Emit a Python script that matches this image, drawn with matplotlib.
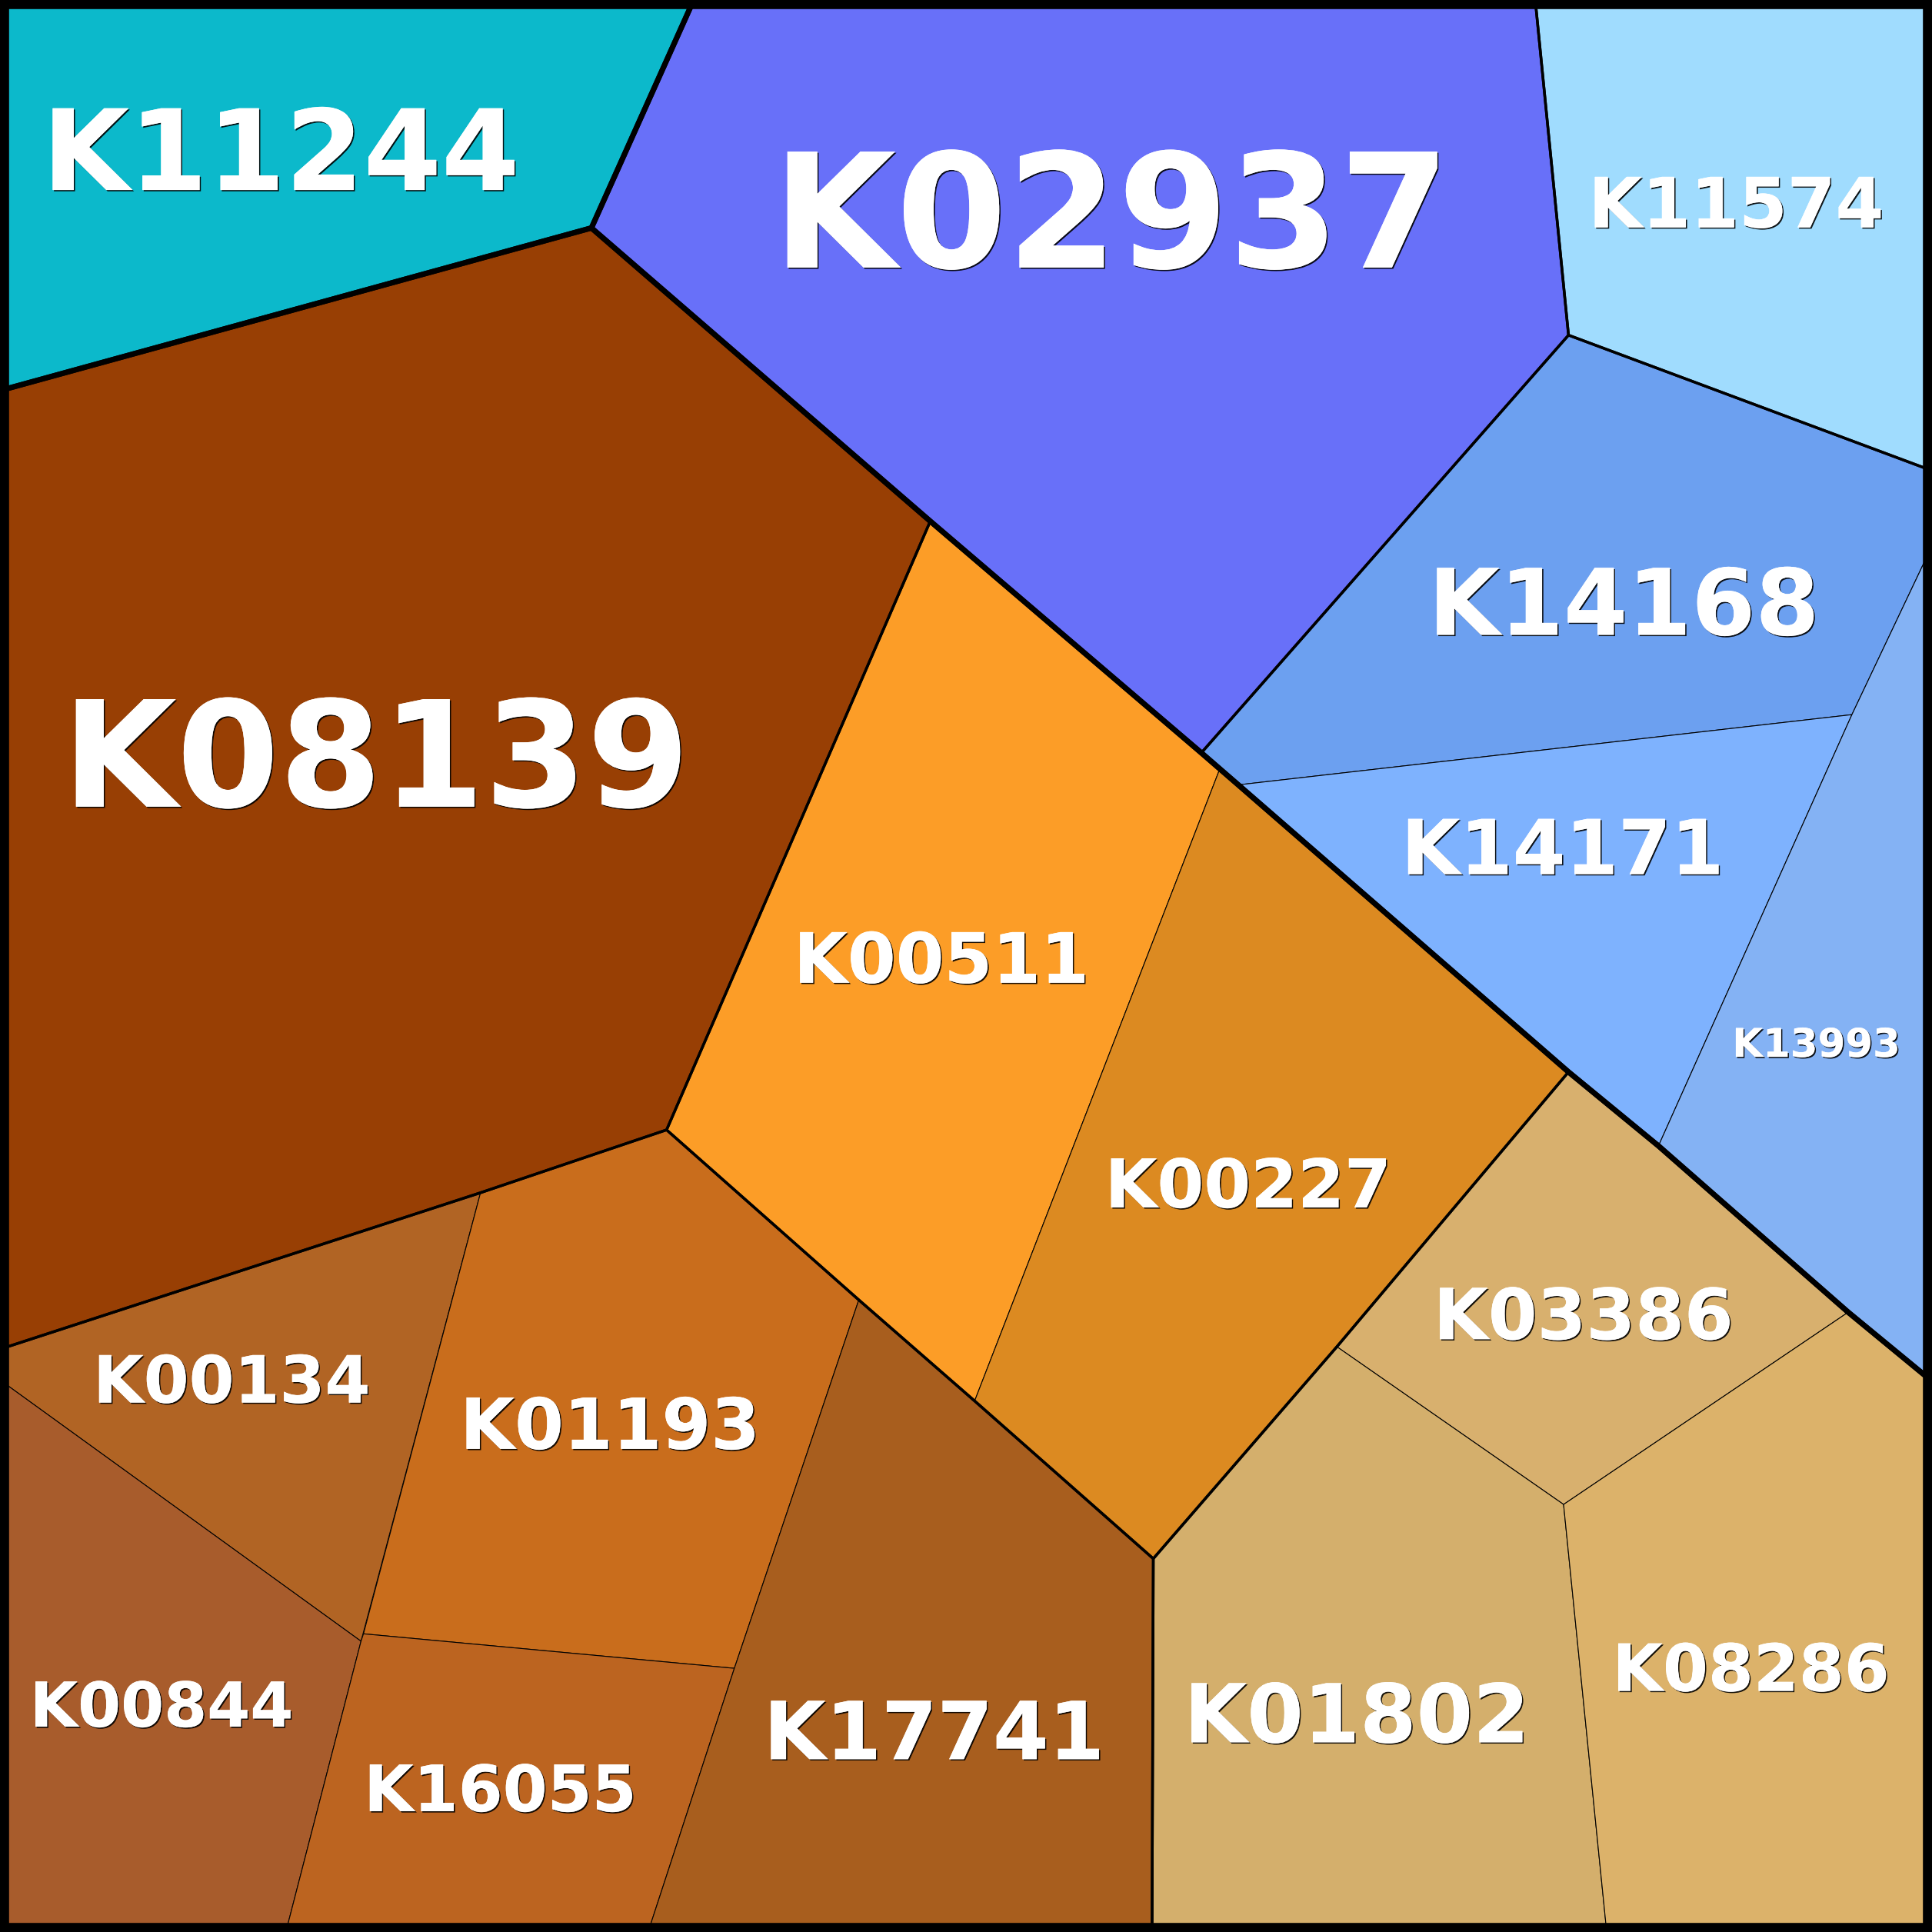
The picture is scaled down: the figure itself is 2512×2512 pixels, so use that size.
"""
Voronoi treemap of KEGG orthologs (K numbers), three nesting levels.
"""
import matplotlib.pyplot as plt
import matplotlib.patheffects as pe
from matplotlib.patches import Polygon, Rectangle

# named vertices, in picture coordinates (0..1568, y down)
pts = {
    'tl': (0, 0), 'tr': (1568, 0), 'br': (1568, 1568), 'bl': (0, 1568),
    'a_top': (563, 0), 'a_left': (0, 317), 'abd': (480, 185),
    'b_top': (1246, 0), 'b_c': (1273, 272), 'r382': (1568, 382),
    'r443': (1568, 443), 'r1121': (1568, 1121),
    'd1': (755, 423), 'd2': (975, 611), 'd3': (990, 624), 'd4': (1005, 637),
    'd5': (1273, 870), 'd6': (1346, 930), 'd7': (1500, 1065),
    'k171': (1503, 580),
    'm1': (541, 917), 'l1095': (0, 1095), 'm2': (390, 968),
    'm3': (697, 1055), 'm4': (791, 1137), 'm5': (936, 1265),
    'b935': (935, 1568), 'm6': (1085, 1093),
    'l1120': (0, 1120), 'm7': (293, 1332), 'm8': (295, 1326),
    'b232': (232, 1568), 'm9': (596, 1354), 'b526': (526, 1568),
    'm10': (1269, 1221), 'b1304': (1304, 1568),
}

# leaf cells
labels = ['K11244', 'K02937', 'K11574', 'K14168', 'K14171', 'K13993',
          'K08139', 'K00511', 'K00227', 'K00134', 'K00844', 'K01193',
          'K16055', 'K17741', 'K03386', 'K01802', 'K08286']
colors = ['#0cb9cb', '#6870f9', '#a0dcfe', '#6ca0f0', '#7eb2fe', '#84b2f4',
          '#983f04', '#fc9d27', '#dc8a21', '#b16424', '#a85c2c', '#c96d1c',
          '#bc6420', '#a85e1e', '#d8b06e', '#d4af6c', '#dcb26a']
cells = [
    ['tl', 'a_top', 'abd', 'a_left'],
    ['a_top', 'b_top', 'b_c', 'd2', 'd1', 'abd'],
    ['b_top', 'tr', 'r382', 'b_c'],
    ['b_c', 'r382', 'r443', 'k171', 'd4', 'd2'],
    ['d4', 'k171', 'd6', 'd5'],
    ['r443', 'r1121', 'd7', 'd6', 'k171'],
    ['a_left', 'abd', 'd1', 'm1', 'm2', 'l1095'],
    ['d1', 'd2', 'd3', 'm4', 'm3', 'm1'],
    ['d3', 'd4', 'd5', 'm6', 'm5', 'm4'],
    ['l1095', 'm2', 'm7', 'l1120'],
    ['l1120', 'm7', 'b232', 'bl'],
    ['m2', 'm1', 'm3', 'm9', 'm8'],
    ['m8', 'm9', 'b526', 'b232', 'm7'],
    ['m3', 'm4', 'm5', 'b935', 'b526', 'm9'],
    ['d5', 'd6', 'd7', 'm10', 'm6'],
    ['m6', 'm10', 'b1304', 'b935', 'm5'],
    ['m10', 'd7', 'r1121', 'br', 'b1304'],
]
# centre of the capitals of each label
label_xy = [(228, 121), (902, 170), (1409, 164), (1318, 488), (1268, 687),
            (1474, 846), (305, 611), (764, 777), (1013, 960), (188, 1119),
            (131, 1383), (495, 1155), (406, 1451), (758, 1404),
            (1285, 1066), (1101, 1390), (1421, 1353)]
label_size = [105, 149, 65, 86, 71, 37, 138, 65, 63, 61, 58, 66, 60, 75,
              66, 76, 61]

# level 1 groups
groups = [
    ['a_top', 'b_top', 'b_c', 'd2', 'd1', 'abd'],
    ['b_top', 'tr', 'r382', 'b_c'],
    ['d2', 'b_c', 'r382', 'r1121', 'd7', 'd6', 'd5', 'd4'],
    ['a_left', 'abd', 'd1', 'm1', 'm2', 'l1095'],
    ['d1', 'd2', 'd3', 'd4', 'd5', 'm6', 'm5', 'm4', 'm3', 'm1'],
    ['l1095', 'm2', 'm1', 'm3', 'm4', 'm5', 'b935', 'bl'],
    ['m6', 'd5', 'd6', 'd7', 'r1121', 'br', 'b935', 'm5'],
]

# top level groups
tops = [
    ['tl', 'a_top', 'abd', 'a_left'],
    ['abd', 'a_top', 'tr', 'r1121', 'd7', 'd6', 'd5', 'd4', 'd3', 'd2', 'd1'],
    ['a_left', 'abd', 'd1', 'd2', 'd3', 'd4', 'd5', 'd6', 'd7', 'r1121',
     'br', 'bl'],
]

fig = plt.figure(figsize=(25.12, 25.12), dpi=100)
ax = fig.add_axes([0, 0, 1, 1])
ax.set_xlim(0, 1568)
ax.set_ylim(1568, 0)
ax.axis('off')

for names, c in zip(cells, colors):
    ax.add_patch(Polygon([pts[n] for n in names], closed=True,
                         facecolor=c, edgecolor='black', linewidth=0.8))
for names in groups:
    ax.add_patch(Polygon([pts[n] for n in names], closed=True,
                         fill=False, edgecolor='black', linewidth=2.5,
                         joinstyle='round'))
for names in tops:
    ax.add_patch(Polygon([pts[n] for n in names], closed=True,
                         fill=False, edgecolor='black', linewidth=5.0,
                         joinstyle='round'))
ax.add_patch(Rectangle((0, 0), 1568, 1568, fill=False, edgecolor='black',
                       linewidth=17))

shadow = [pe.withSimplePatchShadow(offset=(1.2, -1.2),
                                   shadow_rgbFace='black', alpha=0.9),
          pe.Normal()]
# points -> picture units, to put the baseline under the capitals
pt2u = 100 / 72 * 1568 / 2512
for lab, (x, y), s in zip(labels, label_xy, label_size):
    ax.text(x, y + 0.365 * s * pt2u, lab, color='white', fontsize=s,
            fontweight='bold', ha='center', va='baseline',
            path_effects=shadow)

plt.savefig('out.png', dpi=100)
